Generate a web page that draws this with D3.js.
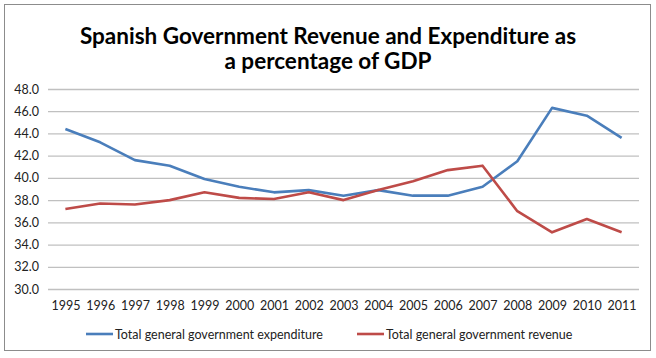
<!DOCTYPE html>
<html><head><meta charset="utf-8">
<script src="https://cdn.jsdelivr.net/npm/d3@7/dist/d3.min.js"></script>
<style>body{margin:0;background:#fff;} text{font-family:Lato,"Open Sans",sans-serif;}</style>
</head><body><svg id="c" width="656" height="358"></svg>
<script>
const years = ["1995","1996","1997","1998","1999","2000","2001","2002","2003","2004","2005","2006","2007","2008","2009","2010","2011"];
const expenditure = [44.4,43.2,41.6,41.1,39.9,39.2,38.7,38.9,38.4,38.9,38.4,38.4,39.2,41.5,46.3,45.6,43.6];
const revenue = [37.2,37.7,37.6,38.0,38.7,38.2,38.1,38.7,38.0,38.9,39.7,40.7,41.1,37.0,35.1,36.3,35.1];
const yTicks = [30,32,34,36,38,40,42,44,46,48];
const seriesNames = ["Total general government expenditure","Total general government revenue"];
const colors = ["#4a7ebb","#be4b48"];
const titleLines = ["Spanish Government Revenue and Expenditure as","a percentage of GDP"];

const svg = d3.select("#c");
svg.append("rect").attr("x",4.5).attr("y",4.5).attr("width",646).attr("height",346)
  .attr("fill","#fff").attr("stroke","#8c8c8c").attr("stroke-width",1);

const x = d3.scalePoint().domain(years).range([48,639]).padding(0.5);
const y = d3.scaleLinear().domain([30,48]).range([289,89]);

// gridlines
const gy = svg.append("g").attr("transform","translate(48,0)")
  .call(d3.axisLeft(y).tickValues(yTicks).tickSize(-591).tickFormat(d3.format(".1f")).tickPadding(9));
gy.select(".domain").remove();
gy.selectAll(".tick line").attr("stroke","#c0c0c0").attr("stroke-width",1.3);
gy.selectAll(".tick text").attr("font-size",12.5).attr("fill","#222").style("font-family","Lato, sans-serif");

const gx = svg.append("g").attr("transform","translate(0,289)")
  .call(d3.axisBottom(x).tickSize(0).tickPadding(12));
gx.select(".domain").remove();
gx.selectAll(".tick text").attr("font-size",12.5).attr("fill","#222").style("font-family","Lato, sans-serif");

const line = d3.line().x((d,i)=>x(years[i])).y(d=>y(d));
[expenditure,revenue].forEach((s,k)=>{
  svg.append("path").datum(s).attr("d",line).attr("fill","none")
    .attr("stroke",colors[k]).attr("stroke-width",2.6).attr("stroke-linejoin","round");
});

// title
svg.append("g").selectAll("text").data(titleLines).join("text")
  .attr("x",328).attr("y",(d,i)=>44+i*25).attr("text-anchor","middle")
  .attr("font-size",22.5).attr("font-weight","bold").attr("fill","#000").text(d=>d);

// legend
const legX = [86,357];
seriesNames.forEach((n,k)=>{
  svg.append("line").attr("x1",legX[k]).attr("x2",legX[k]+27).attr("y1",334).attr("y2",334)
    .attr("stroke",colors[k]).attr("stroke-width",2.6);
  svg.append("text").attr("x",legX[k]+29).attr("y",338.5).attr("font-size",12.5).attr("fill","#222").text(n);
});
</script></body></html>
